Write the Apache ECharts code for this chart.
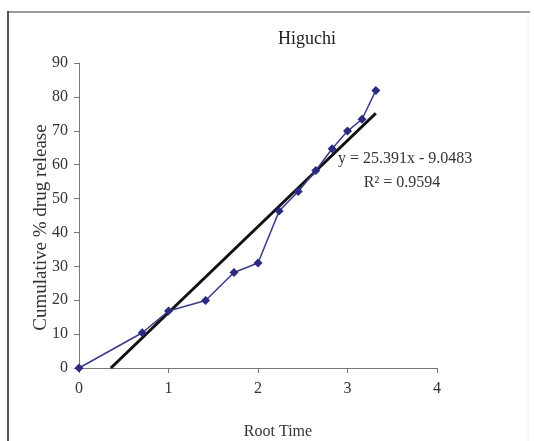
<!DOCTYPE html>
<html>
<head>
<meta charset="utf-8">
<script src="https://cdn.jsdelivr.net/npm/echarts@6/dist/echarts.min.js"></script>
<style>html,body{margin:0;padding:0;background:#fff}#c{width:534px;height:441px}</style>
</head>
<body>
<div id="c"></div>
<script>
// Data
const rootTime = [0, 0.707, 1, 1.414, 1.732, 2, 2.236, 2.449, 2.646, 2.828, 3, 3.162, 3.317];
const release  = [0, 10.4, 16.8, 19.9, 28.2, 31.0, 46.3, 52.1, 58.3, 64.7, 69.9, 73.4, 81.9];
const trendSlope = 25.391;
const trendIntercept = -9.0483;
const trendX = [0.3564, 3.317];
const xTicks = [0, 1, 2, 3, 4];
const yTicks = [0, 10, 20, 30, 40, 50, 60, 70, 80, 90];
const equationText = 'y = 25.391x - 9.0483';
const r2Text = 'R² = 0.9594';

const FONT = '"Liberation Serif", "Times New Roman", serif';
const chart = echarts.init(document.getElementById('c'), null, {renderer: 'canvas'});

const seriesData = rootTime.map((x, i) => [x, release[i]]);
const trendData = trendX.map(x => [x, trendSlope * x + trendIntercept]);

chart.setOption({
  backgroundColor: '#fff',
  animation: false,
  title: {
    text: 'Higuchi',
    left: 302, top: 25, textAlign: 'center',
    textStyle: {fontFamily: FONT, fontSize: 18, fontWeight: 'normal', color: '#222'}
  },
  grid: {left: 79, right: 97, top: 63, bottom: 73, containLabel: false, outerBoundsMode: 'none'},
  xAxis: {
    type: 'value', min: xTicks[0], max: xTicks[xTicks.length - 1], interval: 1,
    name: 'Root Time', nameLocation: 'middle', nameGap: 56, nameMoveOverlap: false,
    nameTextStyle: {fontFamily: FONT, fontSize: 16, color: '#333', padding: [0, 0, 0, 40]},
    axisLine: {lineStyle: {color: '#777', width: 1}},
    axisTick: {show: true, inside: false, length: 5, lineStyle: {color: '#777'}},
    axisLabel: {fontFamily: FONT, fontSize: 16, color: '#333', margin: 13},
    splitLine: {show: false}
  },
  yAxis: {
    type: 'value', min: yTicks[0], max: yTicks[yTicks.length - 1], interval: 10,
    name: 'Cumulative % drug release', nameLocation: 'middle', nameGap: 28, nameMoveOverlap: false,
    nameTextStyle: {fontFamily: FONT, fontSize: 19, color: '#333', padding: [0, 24, 0, 0]},
    axisLine: {show: true, lineStyle: {color: '#777', width: 1}},
    axisTick: {show: true, inside: false, length: 5, lineStyle: {color: '#777'}},
    axisLabel: {fontFamily: FONT, fontSize: 16, color: '#333', margin: 11},
    splitLine: {show: false}
  },
  graphic: [
    {type: 'line', shape: {x1: 7, y1: 12, x2: 530, y2: 12}, style: {stroke: '#999', lineWidth: 2}, z: 100},
    {type: 'line', shape: {x1: 8, y1: 11, x2: 8, y2: 441}, style: {stroke: '#555', lineWidth: 2}, z: 100},
    {type: 'line', shape: {x1: 528, y1: 13, x2: 528, y2: 441}, style: {stroke: '#eee', lineWidth: 1}, z: 100},
    {type: 'text', x: 338, y: 159, style: {text: equationText, font: '16px ' + FONT, fill: '#333', verticalAlign: 'middle', align: 'left'}, z: 100},
    {type: 'text', x: 402, y: 183, style: {text: r2Text, font: '16px ' + FONT, fill: '#333', verticalAlign: 'middle', align: 'center'}, z: 100}
  ],
  series: [
    {
      type: 'line', data: trendData, symbol: 'none',
      lineStyle: {color: '#111', width: 3}, z: 2
    },
    {
      type: 'line', data: seriesData, symbol: 'diamond', symbolSize: 9,
      itemStyle: {color: '#2a2a80'},
      lineStyle: {color: '#3a3a8a', width: 1.5}, z: 3
    }
  ]
});
</script>
</body>
</html>
